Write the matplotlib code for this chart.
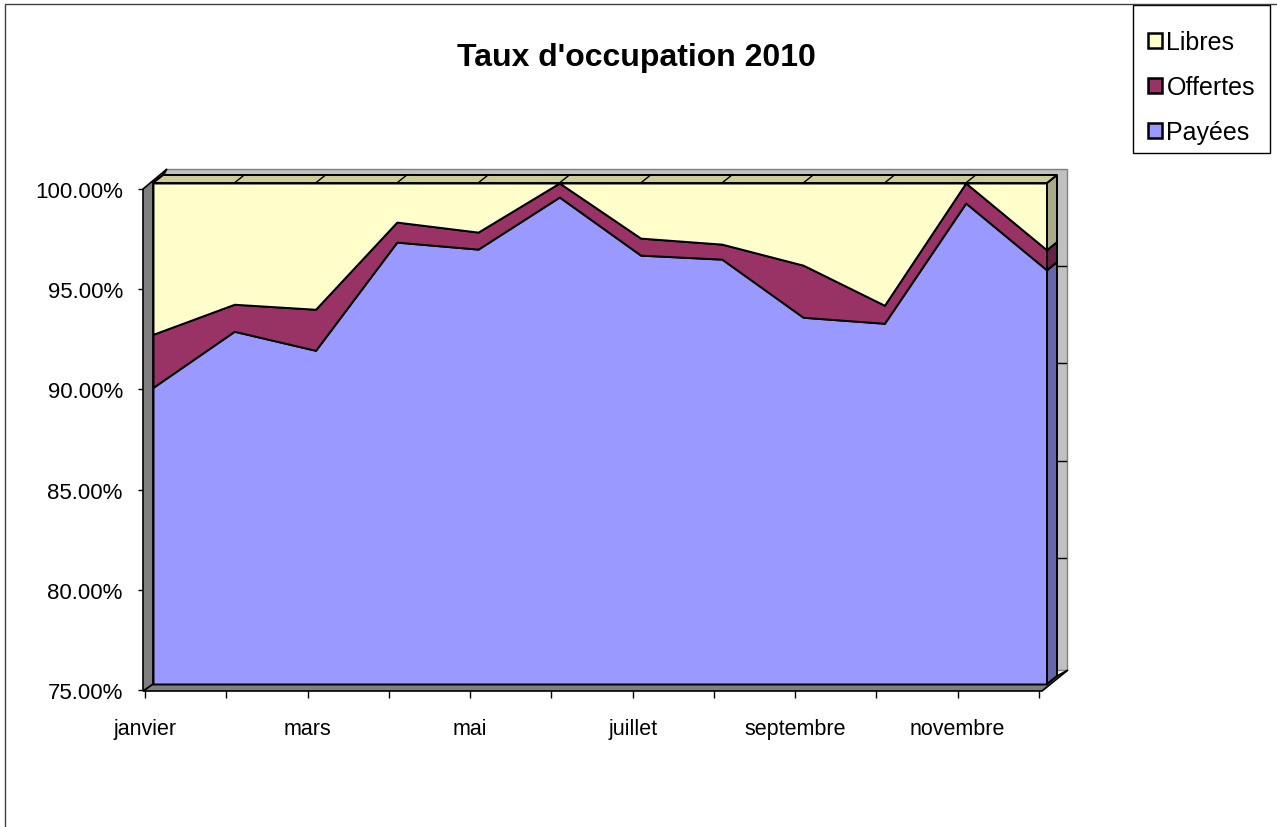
import matplotlib
matplotlib.use("Agg")
import matplotlib.pyplot as plt
from matplotlib.patches import Polygon, Patch, Rectangle
import numpy as np

# police type Arial
plt.rcParams['font.family'] = ['Liberation Sans', 'DejaVu Sans']

# données (en %)
mois = ['janvier', 'février', 'mars', 'avril', 'mai', 'juin',
        'juillet', 'août', 'septembre', 'octobre', 'novembre', 'décembre']
payees = [89.8, 92.6, 91.65, 97.05, 96.7, 99.3, 96.4, 96.2, 93.3, 93.0, 99.0, 95.65]
offertes = [2.65, 1.35, 2.05, 1.0, 0.85, 0.7, 0.85, 0.75, 2.6, 0.9, 1.0, 1.0]
libres = [7.55, 6.05, 6.3, 1.95, 2.45, 0.0, 2.75, 3.05, 4.1, 6.1, 0.0, 3.35]
y_ticks = [75, 80, 85, 90, 95, 100]

noms = ['Payées', 'Offertes', 'Libres']
couleurs = ['#9999FF', '#993366', '#FFFFCC']
couleurs_cote = ['#6666AA', '#662244', '#AAAA88']

W, H = 1277, 828
fig = plt.figure(figsize=(W / 100, H / 100), dpi=100)

# plan des axes (pixels)
x_first, x_last = 145, 1039
y_low, y_high = 691, 190
ax = fig.add_axes([x_first / W, 1 - y_low / H, (x_last - x_first) / W, (y_low - y_high) / H])
ax.set_xlim(0, 11)
ax.set_ylim(75, 100)
ax.patch.set_visible(False)
for s in ax.spines.values():
    s.set_visible(False)

ux = (x_last - x_first) / 11.0
uy = (y_low - y_high) / 25.0


def ox(p):
    return p / ux


def oy(p):
    return p / uy


x = np.arange(len(mois))
n = len(mois) - 1

# décalage "3D"
fx, fy = ox(8), oy(6)        # face avant des séries
dxs, dys = ox(10), oy(8)     # profondeur des séries

# mur du fond
ax.add_patch(Polygon([(ox(20), 75 + oy(20)), (n + ox(28), 75 + oy(20)),
                      (n + ox(28), 100 + oy(20)), (ox(20), 100 + oy(20))],
                     closed=True, facecolor='#C0C0C0', edgecolor='#808080',
                     lw=1, zorder=1, clip_on=False))
for v in y_ticks[1:-1]:
    yb = 100 + oy(20) - (100 - v) * 0.97
    ax.plot([n + ox(18), n + ox(27)], [yb, yb], color='black', lw=1, zorder=1.5, clip_on=False)

# sol
ax.add_patch(Polygon([(ox(-2), 75 + oy(-1)), (n + ox(3), 75 + oy(-1)),
                      (n + ox(29), 75 + oy(20)), (n + ox(18), 75 + oy(14)),
                      (n + ox(8), 75 + oy(6)), (ox(8), 75 + oy(6))],
                     closed=True, facecolor='#808080', edgecolor='black',
                     lw=1.2, zorder=2, clip_on=False))

# mur de gauche
ax.add_patch(Polygon([(ox(-2), 75 + oy(-1)), (ox(-2), 100),
                      (ox(22), 100 + oy(20)), (ox(18), 100 + oy(14)),
                      (ox(8), 100 + oy(6)), (ox(8), 75 + oy(6))],
                     closed=True, facecolor='#808080', edgecolor='black',
                     lw=1.2, zorder=2, clip_on=False))

# aires empilées
cumul = np.full(len(mois), 75.0)
for k, (serie, col, col_c) in enumerate(zip([payees, offertes, libres], couleurs, couleurs_cote)):
    valeurs = np.array(serie)
    if k == 0:
        bas_s = np.full(len(mois), 75.0)
        haut = valeurs.copy()
    else:
        bas_s = cumul
        haut = cumul + valeurs
    ax.fill_between(x + fx, bas_s + fy, haut + fy, facecolor=col, edgecolor='black',
                    lw=1.4, zorder=3, clip_on=False)
    # face de droite
    ax.add_patch(Polygon([(n + fx, bas_s[-1] + fy), (n + fx + dxs, bas_s[-1] + fy + dys),
                          (n + fx + dxs, haut[-1] + fy + dys), (n + fx, haut[-1] + fy)],
                         closed=True, facecolor=col_c, edgecolor='black',
                         lw=1.4, zorder=3, clip_on=False))
    cumul = haut

# dessus (100 %)
ax.add_patch(Polygon([(fx, 100 + fy), (n + fx, 100 + fy),
                      (n + fx + dxs, 100 + fy + dys), (fx + dxs, 100 + fy + dys)],
                     closed=True, facecolor='#CCCC99', edgecolor='black',
                     lw=1.4, zorder=3, clip_on=False))
for i in x:
    ax.plot([i + fx, i + fx + dxs], [100 + fy, 100 + fy + dys], color='black',
            lw=1, zorder=3.5, clip_on=False)

# axes
ax.set_yticks(y_ticks)
ax.set_yticklabels([f"{v:.2f}%" for v in y_ticks])
ax.set_xticks(x)
ax.set_xticklabels([m if i % 2 == 0 else '' for i, m in enumerate(mois)])
ax.tick_params(axis='y', direction='out', length=5, width=1, pad=11, labelsize=16, colors='black')
ax.tick_params(axis='x', direction='out', length=6, width=1, pad=14, labelsize=15.5, colors='black')

# titre
fig.text(636 / W, 1 - 58 / H, "Taux d'occupation 2010", ha='center', va='center',
         fontsize=23, fontweight='bold')

# légende (cadre dessiné à part)
handles = [Patch(facecolor=c, edgecolor='black', lw=1.8, label=l)
           for l, c in zip(noms[::-1], couleurs[::-1])]
leg = fig.legend(handles=handles, loc='upper right', bbox_to_anchor=(1270 / W, 1 - 16 / H),
                 frameon=False, fontsize=18, handlelength=0.55, handleheight=0.55,
                 handletextpad=0.2, labelspacing=0.84, borderpad=0.6, borderaxespad=0)
fig.add_artist(Rectangle((1133 / W, 1 - 154 / H), 137 / W, 148 / H, transform=fig.transFigure,
                         fill=False, edgecolor='black', lw=1))

# cadre du graphique
fig.add_artist(Rectangle((5 / W, -0.1), 2, 1 - 5 / H + 0.1, transform=fig.transFigure,
                         fill=False, edgecolor='#404040', lw=1))

fig.savefig('out.png', dpi=100)
